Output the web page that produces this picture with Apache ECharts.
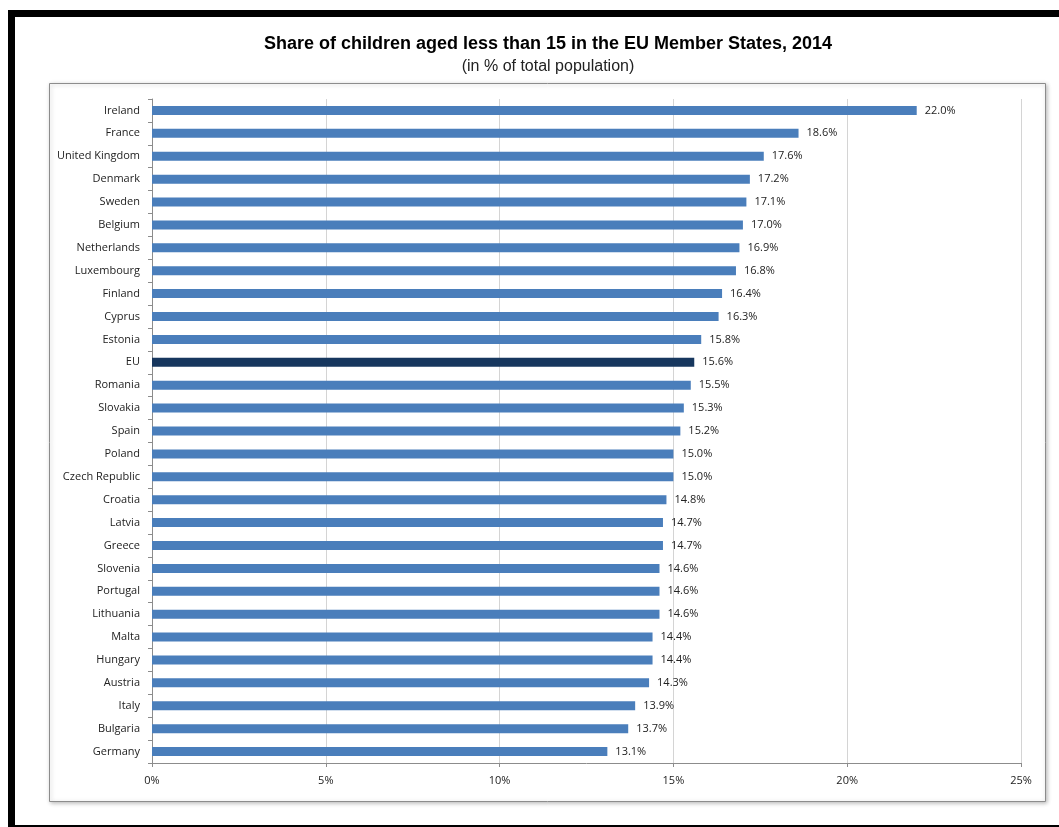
<!DOCTYPE html>
<html>
<head>
<meta charset="utf-8">
<script src="https://cdn.jsdelivr.net/npm/echarts@6/dist/echarts.min.js"></script>
<style>
html,body{margin:0;padding:0;background:#fff;}
#chart{width:1059px;height:827px;}
</style>
</head>
<body>
<div id="chart"></div>
<script>
const titleText = 'Share of children aged less than 15 in the EU Member States, 2014';
const subtitleText = '(in % of total population)';
const categories = ['Ireland','France','United Kingdom','Denmark','Sweden','Belgium','Netherlands','Luxembourg','Finland','Cyprus','Estonia','EU','Romania','Slovakia','Spain','Poland','Czech Republic','Croatia','Latvia','Greece','Slovenia','Portugal','Lithuania','Malta','Hungary','Austria','Italy','Bulgaria','Germany'];
const values = [22.0,18.6,17.6,17.2,17.1,17.0,16.9,16.8,16.4,16.3,15.8,15.6,15.5,15.3,15.2,15.0,15.0,14.8,14.7,14.7,14.6,14.6,14.6,14.4,14.4,14.3,13.9,13.7,13.1];
const highlight = 'EU';

const chart = echarts.init(document.getElementById('chart'), null, {renderer:'canvas'});
const labelFont = '"Open Sans", "DejaVu Sans", sans-serif';
chart.setOption({
  animation:false,
  backgroundColor:'#fff',
  graphic:[
    {type:'rect', silent:true, z:-10, shape:{x:11.5,y:13.5,width:1070,height:815}, style:{fill:'#fff',stroke:'#000',lineWidth:7}},
    {type:'rect', silent:true, z:-9, shape:{x:49.5,y:83.5,width:996,height:718}, style:{fill:'#fff',stroke:'#8c8c8c',lineWidth:1,shadowBlur:4,shadowColor:'rgba(0,0,0,0.25)',shadowOffsetX:1,shadowOffsetY:1}},
    {type:'text', silent:true, style:{x:548,y:44,text:titleText,align:'center',verticalAlign:'middle',fontFamily:'"Liberation Sans", Arial, sans-serif',fontWeight:'bold',fontSize:18,fill:'#000'}},
    {type:'text', silent:true, style:{x:548,y:67,text:subtitleText,align:'center',verticalAlign:'middle',fontFamily:'"Liberation Sans", Arial, sans-serif',fontSize:16,fill:'#222'}}
  ],
  grid:{left:152,right:38,top:99,bottom:64,containLabel:false},
  xAxis:{
    type:'value', min:0, max:25, interval:5,
    axisLine:{show:true,lineStyle:{color:'#8c8c8c'}},
    axisTick:{show:true,length:4,lineStyle:{color:'#8c8c8c'}},
    axisLabel:{formatter:v=>v+'%', fontFamily:labelFont, fontSize:11, color:'#222', margin:12},
    splitLine:{show:true,lineStyle:{color:'#d4d4d4',width:1}}
  },
  yAxis:{
    type:'category', data:categories, inverse:true,
    axisLine:{show:true,lineStyle:{color:'#8c8c8c'}},
    axisTick:{show:true,length:4,lineStyle:{color:'#8c8c8c'}},
    axisLabel:{fontFamily:labelFont, fontSize:11, color:'#222', margin:12}
  },
  series:[{
    type:'bar',
    barWidth:9,
    data:values.map((v,i)=>({value:v,itemStyle:{color: categories[i]===highlight ? '#17375e' : '#4a7ebb'}})),
    label:{show:true, position:'right', distance:8, formatter:p=>p.value.toFixed(1)+'%', fontFamily:labelFont, fontSize:11, color:'#222'}
  }]
});
</script>
</body>
</html>
